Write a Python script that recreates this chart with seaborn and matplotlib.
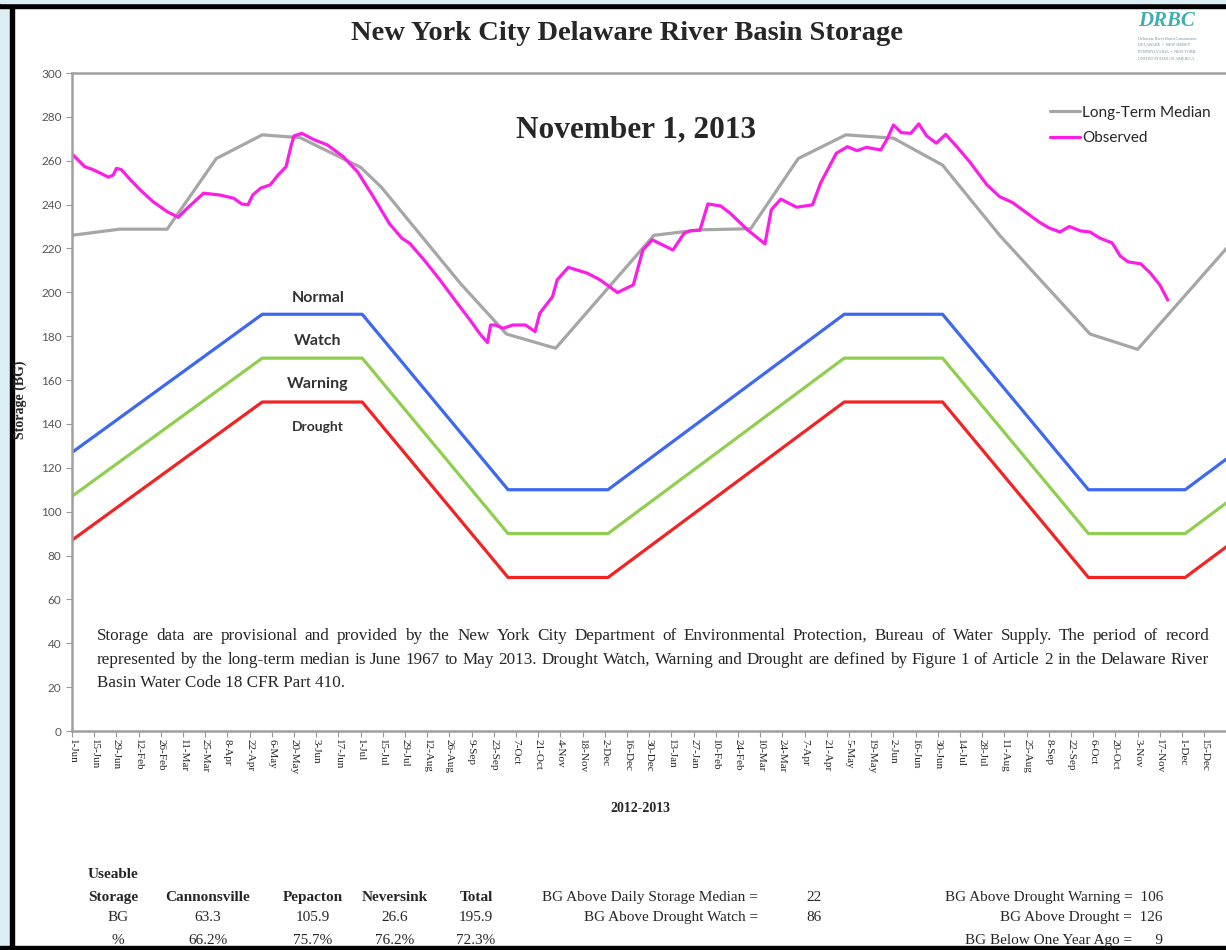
import numpy as np
import pandas as pd
import seaborn as sns
import matplotlib.pyplot as plt
from matplotlib.patches import Rectangle

sns.set_style("white")
plt.rcParams['font.family'] = ['Liberation Serif', 'DejaVu Serif']

# x positions are days counted from the first tick, one tick every 14 days
tick_labels = ['1-Jun', '15-Jun', '29-Jun', '12-Feb', '26-Feb', '11-Mar', '25-Mar', '8-Apr', '22-Apr',
               '6-May', '20-May', '3-Jun', '17-Jun', '1-Jul', '15-Jul', '29-Jul', '12-Aug', '26-Aug',
               '9-Sep', '23-Sep', '7-Oct', '21-Oct', '4-Nov', '18-Nov', '2-Dec', '16-Dec', '30-Dec',
               '13-Jan', '27-Jan', '10-Feb', '24-Feb', '10-Mar', '24-Mar', '7-Apr', '21-Apr', '5-May',
               '19-May', '2-Jun', '16-Jun', '30-Jun', '14-Jul', '28-Jul', '11-Aug', '25-Aug', '8-Sep',
               '22-Sep', '6-Oct', '20-Oct', '3-Nov', '17-Nov', '1-Dec', '15-Dec']

median_days = [0, 30, 60, 91, 120, 144, 182, 195, 245, 274, 305, 367, 396, 428, 458, 488, 518, 549,
               585, 642, 672, 728]
median_bg = [226, 228.8, 228.8, 261, 271.8, 270.5, 257, 248, 204, 181, 174.5, 226, 228.5, 229, 261,
             271.8, 270.3, 258, 226, 181, 174, 220]

observed_days = [0, 8, 13, 18, 23, 26, 28, 31, 37, 43, 51, 60, 67, 72, 83, 93, 102, 107, 111, 114,
                 119, 125, 130, 135, 138, 140, 145, 152, 161, 171, 180, 190, 200, 208, 213, 222, 232,
                 243, 251, 257, 262, 264, 267, 272, 278, 286, 292, 295, 303, 306, 313, 325, 333, 344,
                 354, 360, 366, 379, 386, 390, 396, 401, 409, 415, 426, 437, 441, 447, 457, 467, 472,
                 482, 489, 495, 501, 510, 514, 518, 523, 529, 534, 539, 545, 551, 558, 566, 577, 585,
                 593, 610, 616, 623, 629, 636, 642, 648, 656, 661, 666, 674, 680, 686, 691]
observed_bg = [263.1, 257.3, 256, 254.3, 252.5, 253.5, 256.5, 256, 251.2, 246.7, 241.4, 236.8, 234.2,
               237.9, 245.2, 244.4, 242.9, 240.3, 239.9, 244.4, 247.5, 249, 253.5, 257.3, 266.4,
               271.3, 272.5, 269.8, 267.2, 261.9, 255, 243.6, 231.5, 224.7, 222.3, 214.8, 205.7, 195,
               187.4, 181.3, 177.1, 185.1, 185.1, 183.6, 185.1, 185.1, 182.1, 190.5, 198, 205.7,
               211.4, 208.7, 205.7, 199.9, 203.4, 219.3, 223.9, 219.3, 226.9, 228.1, 228.3, 240.3,
               239.4, 236.1, 228.5, 222.1, 237.6, 242.5, 238.8, 239.9, 249.7, 263.4, 266.4, 264.6,
               266.1, 264.9, 269.8, 276.3, 272.8, 272.5, 276.8, 271.3, 268, 272, 266.4, 259.6, 249,
               243.6, 241, 232, 229.4, 227.5, 230, 228, 227.5, 224.8, 222.5, 216.6, 213.9, 213, 208.8,
               203.4, 196.5]

rule_days = [0, 120, 183, 275, 338, 487, 549, 641, 702, 728]
watch_bg = [127, 190, 190, 110, 110, 190, 190, 110, 110, 124]
warning_bg = [107, 170, 170, 90, 90, 170, 170, 90, 90, 104]
drought_bg = [87, 150, 150, 70, 70, 150, 150, 70, 70, 84]

zone_names = ['Normal', 'Watch', 'Warning', 'Drought']
zone_y = [197.5, 178, 158, 138.5]

reservoirs = ['Cannonsville', 'Pepacton', 'Neversink', 'Total']
useable_bg = ['63.3', '105.9', '26.6', '195.9']
useable_pct = ['66.2%', '75.7%', '76.2%', '72.3%']

W, H = 1226, 950
fig = plt.figure(figsize=(W / 100, H / 100), dpi=100)

# screenshot frame
fig.patches.append(Rectangle((0, 0), 10 / W, 1, transform=fig.transFigure, color='#DCEEF6', zorder=0))
fig.patches.append(Rectangle((10 / W, 0), 4 / W, 1, transform=fig.transFigure, color='black', zorder=0))
fig.patches.append(Rectangle((0, 1 - 8 / H), 1, 5 / H, transform=fig.transFigure, color='black', zorder=0))
fig.patches.append(Rectangle((0, 1 - 3 / H), 1, 3 / H, transform=fig.transFigure, color='#DCEEF6', zorder=0))
fig.patches.append(Rectangle((0, 0), 1, 4 / H, transform=fig.transFigure, color='black', zorder=0))

ax = fig.add_axes([72 / W, 219 / H, 1160 / W, 658 / H])

rules = pd.DataFrame({'day': rule_days, 'watch': watch_bg, 'warning': warning_bg, 'drought': drought_bg})
sns.lineplot(data=rules, x='day', y='watch', color='#3D68F0', lw=2.3, ax=ax, legend=False)
sns.lineplot(data=rules, x='day', y='warning', color='#8FCF4F', lw=2.3, ax=ax, legend=False)
sns.lineplot(data=rules, x='day', y='drought', color='#F42323', lw=2.3, ax=ax, legend=False)

med = pd.DataFrame({'day': median_days, 'bg': median_bg})
obs = pd.DataFrame({'day': observed_days, 'bg': observed_bg})
sns.lineplot(data=med, x='day', y='bg', color='#A6A6A6', lw=2.3, ax=ax, label='Long-Term Median')
sns.lineplot(data=obs, x='day', y='bg', color='#FA1EE6', lw=2.3, ax=ax, label='Observed')

for name, y in zip(zone_names, zone_y):
    ax.text(155, y, name, ha='center', va='center', fontsize=11.5 if name != 'Drought' else 10,
            family='Lato', fontweight='bold', color='#333333')

ax.set_xlim(0, 1160 / 22.2 * 14)
ax.set_ylim(0, 300)
ax.set_yticks(np.arange(0, 301, 20))
ax.set_xticks(np.arange(len(tick_labels)) * 14)
ax.set_xticklabels(tick_labels, rotation=270, fontsize=8, family='Liberation Serif')
ax.tick_params(axis='y', labelsize=8.5, labelcolor='#555555', length=4, color='#999999', left=True)
ax.tick_params(axis='x', length=4, color='#999999', bottom=True, pad=2)
for lbl in ax.get_yticklabels():
    lbl.set_family('Lato')
for side in ['left', 'bottom', 'top']:
    ax.spines[side].set_color('#A0A0A0')
    ax.spines[side].set_linewidth(1.8)
ax.spines['right'].set_visible(False)
ax.set_xlabel('')
ax.set_ylabel('')

ax.legend(loc='upper left', bbox_to_anchor=(1036 / W, 1 - 92 / H), bbox_transform=fig.transFigure,
          frameon=False, handlelength=2.0, handletextpad=0.1, labelspacing=0.75,
          prop={'family': 'Lato', 'size': 11})

fig.text(627 / W, 1 - 33 / H, 'New York City Delaware River Basin Storage', ha='center', va='center',
         fontsize=20.5, fontweight='bold')
fig.text(636 / W, 1 - 130 / H, 'November 1, 2013', ha='center', va='center', fontsize=22.5, fontweight='bold')
fig.text(20 / W, 1 - 400 / H, 'Storage (BG)', rotation=90, ha='center', va='center', fontsize=10,
         fontweight='bold')
fig.text(640 / W, 1 - 808 / H, '2012-2013', ha='center', va='center', fontsize=10, fontweight='bold')

# justified note inside the plot
note = ['Storage data are provisional and provided by the New York City Department of Environmental Protection, '
        'Bureau of Water Supply. The period of record',
        'represented by the long-term median is June 1967 to May 2013. Drought Watch, Warning and Drought '
        'are defined by Figure 1 of Article 2 in the Delaware River',
        'Basin Water Code 18 CFR Part 410.']
renderer = fig.canvas.get_renderer()
for i, line in enumerate(note):
    y = 1 - (636 + i * 23.5) / H
    if i == len(note) - 1:
        fig.text(97 / W, y, line, ha='left', va='center', fontsize=12.3)
        continue
    words = [fig.text(0, y, w, ha='left', va='center', fontsize=12.3) for w in line.split()]
    widths = [t.get_window_extent(renderer).width for t in words]
    gap = (1209 - 97 - sum(widths)) / (len(words) - 1)
    x = 97
    for t, w in zip(words, widths):
        t.set_x(x / W)
        x += w + gap

# logo
lax = fig.add_axes([1136 / W, 1 - 62 / H, 90 / W, 52 / H])
lax.set_axis_off()
lax.text(0.02, 0.78, 'DRBC', color='#3FAFB0', fontsize=15, fontstyle='italic', fontweight='bold',
         va='center', ha='left', transform=lax.transAxes)
for j, t in enumerate(['Delaware River Basin Commission', 'DELAWARE  •  NEW JERSEY',
                       'PENNSYLVANIA  •  NEW YORK', 'UNITED STATES OF AMERICA']):
    lax.text(0.02, 0.45 - j * 0.13, t, fontsize=3, color='#6C8FA0', va='center', ha='left',
             transform=lax.transAxes)

# bottom summary table (baselines in pixels from the top)
row_head, row_bg, row_pct = 901, 921, 944
cols_x = [208, 313, 395, 476]
fig.text(88 / W, 1 - 878 / H, 'Useable', ha='left', va='baseline', fontsize=11, fontweight='bold')
fig.text(88 / W, 1 - row_head / H, 'Storage', ha='left', va='baseline', fontsize=11, fontweight='bold')
fig.text(118 / W, 1 - row_bg / H, 'BG', ha='center', va='baseline', fontsize=11)
fig.text(118 / W, 1 - row_pct / H, '%', ha='center', va='baseline', fontsize=11)
for x, name, bg, pct in zip(cols_x, reservoirs, useable_bg, useable_pct):
    fig.text(x / W, 1 - row_head / H, name, ha='center', va='baseline', fontsize=11, fontweight='bold')
    fig.text(x / W, 1 - row_bg / H, bg, ha='center', va='baseline', fontsize=11)
    fig.text(x / W, 1 - row_pct / H, pct, ha='center', va='baseline', fontsize=11)

fig.text(758 / W, 1 - row_head / H, 'BG Above Daily Storage Median =', ha='right', va='baseline', fontsize=11)
fig.text(822 / W, 1 - row_head / H, '22', ha='right', va='baseline', fontsize=11)
fig.text(758 / W, 1 - row_bg / H, 'BG Above Drought Watch =', ha='right', va='baseline', fontsize=11)
fig.text(822 / W, 1 - row_bg / H, '86', ha='right', va='baseline', fontsize=11)
fig.text(1163 / W, 1 - row_head / H, 'BG Above Drought Warning =  106', ha='right', va='baseline', fontsize=11)
fig.text(1163 / W, 1 - row_bg / H, 'BG Above Drought =  126', ha='right', va='baseline', fontsize=11)
fig.text(1163 / W, 1 - row_pct / H, 'BG Below One Year Ago =      9', ha='right', va='baseline', fontsize=11)

fig.savefig('out.png', dpi=100)
